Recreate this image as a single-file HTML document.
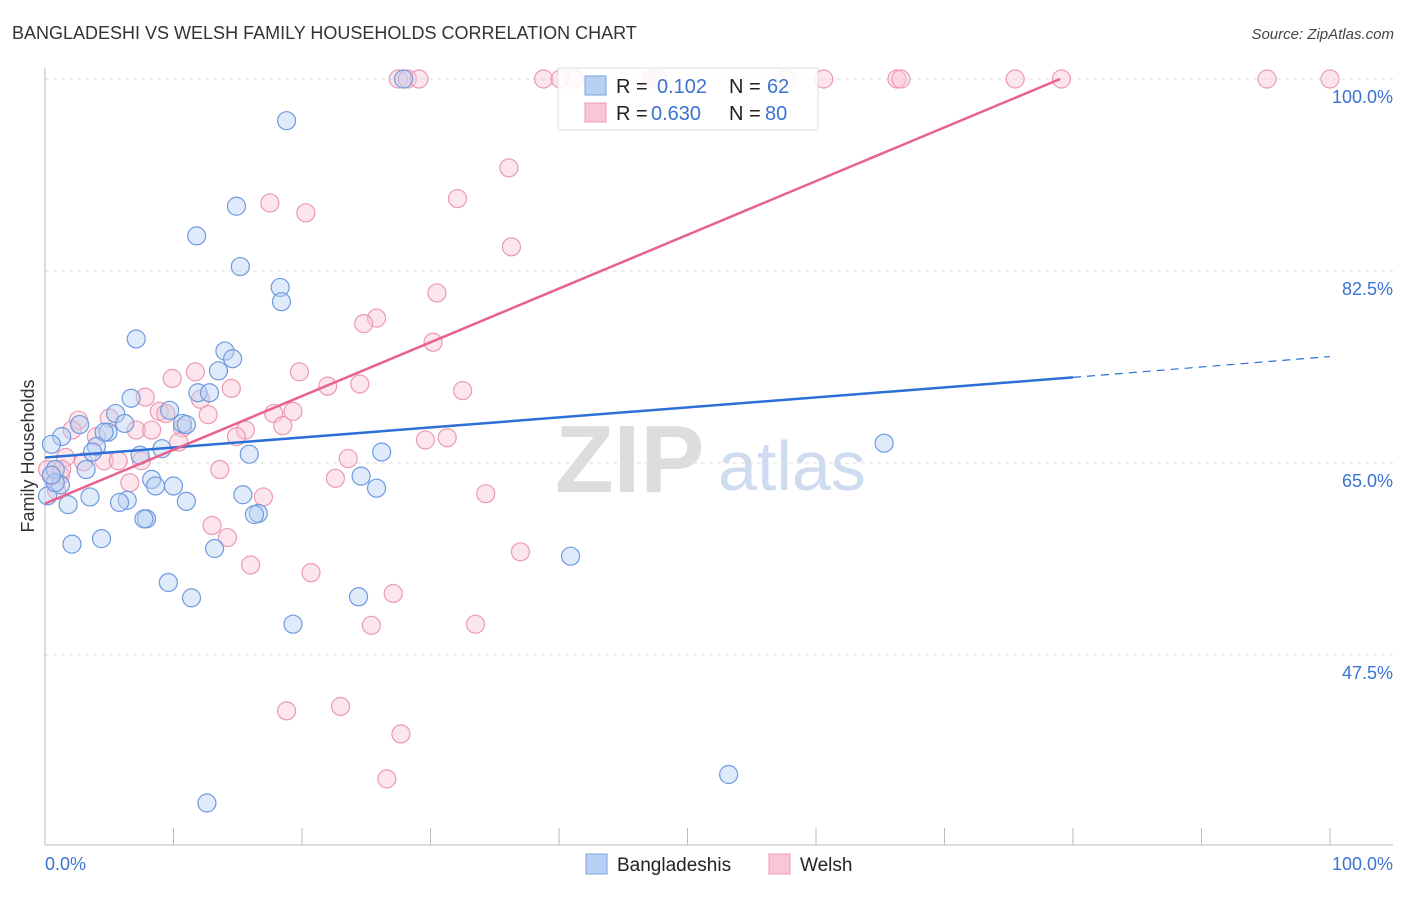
<!DOCTYPE html>
<html><head><meta charset="utf-8"><style>
body{margin:0;background:#fff;font-family:"Liberation Sans",sans-serif}
svg text{font-family:"Liberation Sans",sans-serif}
</style></head><body>
<svg id="chart" width="1406" height="892" xmlns="http://www.w3.org/2000/svg">
<text x="12" y="39" font-size="18" fill="#333">BANGLADESHI VS WELSH FAMILY HOUSEHOLDS CORRELATION CHART</text>
<text x="1394" y="39" font-size="15" fill="#444" text-anchor="end" font-style="italic">Source: ZipAtlas.com</text>
<g>
<text x="555" y="492" font-size="96" fill="#ddd" font-family="Liberation Serif" font-weight="bold">ZIP</text>
<text x="718" y="490" font-size="70" fill="#cfdcf0">atlas</text>
</g>
<g id="grid"></g>
<g id="axes"></g>
<g id="pts"></g>
<g id="lines"></g>
<text transform="translate(34,456) rotate(-90)" font-size="18" fill="#333" text-anchor="middle">Family Households</text>
<g>
<rect x="558" y="68" width="260" height="62" fill="#fff" fill-opacity="0.85" stroke="#ddd"/>
<rect x="585" y="76" width="21" height="19" fill="#b8d0f4" stroke="#7aa3e0"/>
<rect x="585" y="103" width="21" height="19" fill="#f8c6d4" stroke="#ec9ab1"/>
<text x="616" y="93" font-size="20" fill="#222">R = </text><text x="657" y="93" font-size="20" fill="#3b73d1">0.102</text>
<text x="729" y="93" font-size="20" fill="#222">N = </text><text x="767" y="93" font-size="20" fill="#3b73d1">62</text>
<text x="616" y="120" font-size="20" fill="#222">R = </text><text x="651" y="120" font-size="20" fill="#3b73d1">0.630</text>
<text x="729" y="120" font-size="20" fill="#222">N = </text><text x="765" y="120" font-size="20" fill="#3b73d1">80</text>
</g>
<g>
<rect x="586" y="854" width="21" height="20" fill="#b8d0f4" stroke="#7aa3e0"/>
<text x="617" y="871" font-size="19" fill="#222">Bangladeshis</text>
<rect x="769" y="854" width="21" height="20" fill="#f8c6d4" stroke="#ec9ab1"/>
<text x="800" y="871" font-size="19" fill="#222">Welsh</text>
</g>
</svg>
<script>
const yTicks=[100,82.5,65,47.5];
const yTickLabels=["100.0%","82.5%","65.0%","47.5%"];
const xTickLabels=["0.0%","100.0%"];
const blueX=[27.9,18.8,14.9,11.8,15.2,18.3,18.4,7.1,14.0,14.6,13.5,11.9,12.8,6.7,9.7,5.5,6.2,10.7,2.7,4.9,4.6,1.3,0.5,4.0,3.7,11.0,9.1,15.9,7.4,26.2,65.3,0.8,3.2,1.2,8.3,10.0,8.6,25.8,24.6,15.4,3.5,6.4,5.8,11.0,1.8,0.2,7.9,7.7,16.6,16.3,4.4,2.1,13.2,40.9,9.6,11.4,24.4,19.3,53.2,12.6,0.8,0.5];
const blueY=[100,96.2,88.4,85.7,82.9,81.0,79.7,76.3,75.2,74.5,73.4,71.4,71.4,70.9,69.8,69.5,68.6,68.6,68.5,67.8,67.8,67.4,66.7,66.5,66.0,68.5,66.3,65.8,65.7,66.0,66.8,64.4,64.4,63.0,63.5,62.9,62.9,62.7,63.8,62.1,61.9,61.6,61.4,61.5,61.2,62.0,59.9,59.9,60.4,60.3,58.1,57.6,57.2,56.5,54.1,52.7,52.8,50.3,36.6,34.0,63.2,63.9];
const pinkX=[27.5,28.2,29.1,38.8,40.1,41.2,47.3,47.7,57.7,60.6,66.3,66.6,75.5,79.1,95.1,100,36.1,32.1,17.5,20.3,36.3,30.5,25.8,24.8,30.2,19.8,11.7,9.9,14.5,22.0,24.5,32.5,7.8,12.1,19.3,17.8,8.9,9.4,12.7,2.6,5.0,2.1,7.1,8.3,10.7,18.5,15.6,14.9,10.4,29.6,31.3,4.0,1.6,4.6,5.7,3.0,23.6,13.6,1.2,0.5,0.2,6.6,17.0,22.6,34.3,13.0,14.2,37.0,16.0,20.7,27.1,25.4,33.5,18.8,23.0,27.7,26.6,1.3,0.9,7.5];
const pinkY=[100,100,100,100,100,100,100,100,100,100,100,100,100,100,100,100,91.9,89.1,88.7,87.8,84.7,80.5,78.2,77.7,76.0,73.3,73.3,72.7,71.8,72.0,72.2,71.6,71.0,70.8,69.7,69.5,69.7,69.5,69.4,68.9,69.1,68.0,68.0,68.0,68.2,68.4,68.0,67.4,66.9,67.1,67.3,67.4,65.5,65.2,65.2,65.1,65.4,64.4,63.9,63.8,64.4,63.2,61.9,63.6,62.2,59.3,58.2,56.9,55.7,55.0,53.1,50.2,50.3,42.4,42.8,40.3,36.2,64.4,62.5,65.2];
const blueTrend=[65.5,72.8,74.7]; // y at x=0, 80, 100
const pinkTrend=[61.3,100.0]; // y at x=0, 79
const NS="http://www.w3.org/2000/svg";
const X0=45,X1=1330,Y100=79,PXPER=10.97;
function sx(v){return X0+(X1-X0)*v/100;}
function sy(v){return Y100+(100-v)*PXPER;}
function mk(tag,attrs,parent){const e=document.createElementNS(NS,tag);for(const k in attrs)e.setAttribute(k,attrs[k]);parent.appendChild(e);return e;}
const grid=document.getElementById('grid'),axes=document.getElementById('axes'),pts=document.getElementById('pts'),lines=document.getElementById('lines');
yTicks.forEach((t,i)=>{
  const l=mk('line',{x1:X0,x2:1393,y1:sy(t),y2:sy(t),stroke:'#ddd','stroke-dasharray':'4,4'},grid);
  
  
  const tx=mk('text',{x:1393,y:sy(t)+24,'font-size':18,fill:'#3b73d1','text-anchor':'end'},grid);
  tx.textContent=yTickLabels[i];
  
  
});
mk('line',{x1:X0,x2:X0,y1:68,y2:845,stroke:'#bbb'},axes);
mk('line',{x1:X0,x2:1393,y1:845,y2:845,stroke:'#bbb'},axes);
for(let i=0;i<=10;i++){const t=mk('line',{x1:sx(i*10),x2:sx(i*10),y1:828,y2:845,stroke:'#bbb'},axes);
  
  }
const xl0=mk('text',{x:45,y:870,'font-size':18,fill:'#3b73d1'},axes);xl0.textContent=xTickLabels[0];


const xl1=mk('text',{x:1393,y:870,'font-size':18,fill:'#3b73d1','text-anchor':'end'},axes);xl1.textContent=xTickLabels[1];


pinkX.forEach((v,i)=>{const c=mk('circle',{cx:sx(v),cy:sy(pinkY[i]),r:9,fill:'#f8c6d4','fill-opacity':0.45,stroke:'#ec9ab1','stroke-width':1.2},pts);
  
  });
blueX.forEach((v,i)=>{const c=mk('circle',{cx:sx(v),cy:sy(blueY[i]),r:9,fill:'#b8d0f4','fill-opacity':0.45,stroke:'#6f9ae0','stroke-width':1.2},pts);
  
  });
const bl=mk('line',{x1:sx(0),y1:sy(blueTrend[0]),x2:sx(80),y2:sy(blueTrend[1]),stroke:'#2c6fd6','stroke-width':2.5},lines);


const bd=mk('line',{x1:sx(80),y1:sy(blueTrend[1]),x2:sx(100),y2:sy(blueTrend[2]),stroke:'#2c6fd6','stroke-width':1.2,'stroke-dasharray':'8,6'},lines);


const pl=mk('line',{x1:sx(0),y1:sy(pinkTrend[0]),x2:sx(79),y2:sy(pinkTrend[1]),stroke:'#e8628c','stroke-width':2.5},lines);


</script>
</body></html>
